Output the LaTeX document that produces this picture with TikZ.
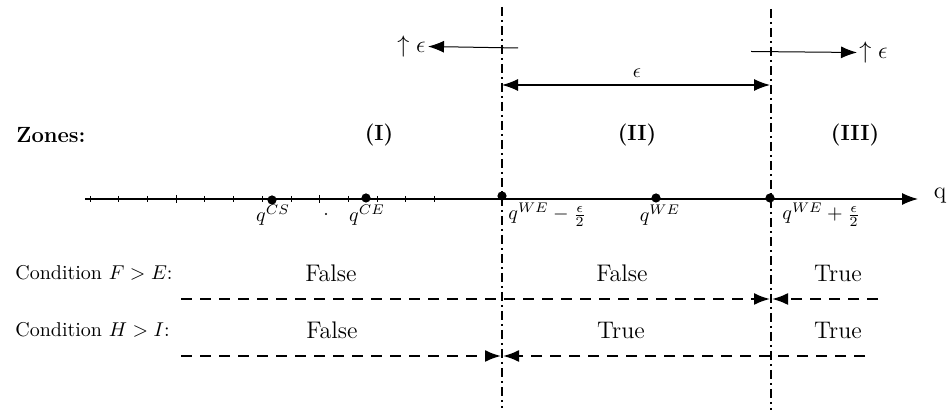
\documentclass[tikz,border=0pt]{standalone}
\usetikzlibrary{arrows.meta}
\begin{document}
\begin{tikzpicture}[x=0.5pt,y=-0.5pt,
  tip/.style={-{Latex[length=8pt,width=6pt]}},
  tips/.style={{Latex[length=8pt,width=6pt]}-{Latex[length=8pt,width=6pt]}},
  zoneline/.style={line width=1pt,dash pattern=on 4.5pt off 2pt on 1pt off 2pt},
  condline/.style={line width=1pt,dash pattern=on 5.5pt off 4pt},
  axisline/.style={line width=0.6pt},
  thinarrow/.style={line width=0.5pt},
  pt/.style={circle,fill,inner sep=0pt,minimum size=4.6pt},
  lbl/.style={inner sep=1pt},
  zone/.style={inner sep=1pt,font=\fontsize{11}{13}\selectfont\bfseries},
  cond/.style={font=\large}
]
\useasboundingbox (0,0) rectangle (948,410);

% vertical zone boundaries
\coordinate (v1t) at (502,7);
\coordinate (v1b) at (502,408);
\coordinate (v2t) at (771,9);
\coordinate (v2b) at (771,410);
\draw[zoneline] (v1t) -- (v1b);
\draw[zoneline] (v2t) -- (v2b);

% top arrows
\coordinate (la) at (518,48);
\coordinate (lt) at (428,46.5);
\coordinate (ra) at (751,51.5);
\coordinate (rt) at (857,52.5);
\draw[thinarrow,tip] (la) -- (lt);
\draw[thinarrow,tip] (ra) -- (rt);
\node[lbl,anchor=east,font=\large] (lup) at (lt) {$\uparrow\epsilon$};
\node[lbl,anchor=west,font=\large] (rup) at (rt) {$\uparrow\epsilon$};

% epsilon width arrow
\coordinate (e1) at (502,85);
\coordinate (e2) at (770,85);
\draw[axisline,tips] (e1) -- (e2);
\node[lbl] (eps) at (637,73) {$\epsilon$};

% zones
\node[zone,anchor=west] (zones) at (14,135) {Zones:};
\node[zone] (z1) at (379,135) {(I)};
\node[zone] (z2) at (637,135) {(II)};
\node[zone] (z3) at (855,135) {(III)};

% axis
\coordinate (a0) at (85,199);
\coordinate (a1) at (918,199);
\draw[axisline,tip] (a0) -- (a1);
\node[lbl,font=\large] (qlab) at (940,196) {q};
\foreach \k in {0,...,12}{
  \pgfmathsetmacro{\tx}{90+28.7*\k}
  \draw[line width=0.4pt] (\tx,196) -- (\tx,202);
}
\draw[line width=0.4pt] (176.1,195) -- (176.1,203);
\draw[line width=0.4pt] (319.6,195) -- (319.6,203);

\node[pt] (cs) at (272,200) {};
\node[pt] (ce) at (366,198) {};
\node[pt] (wm) at (502,196) {};
\node[pt] (we) at (656,198) {};
\node[pt] (wp) at (770,198) {};
\node[lbl] (lcs) at (273,215) {$q^{CS}$};
\node[lbl] (lce) at (367,215) {$q^{CE}$};
\node[lbl,anchor=west] (lwm) at (506,215) {$q^{WE}-\frac{\epsilon}{2}$};
\node[lbl] (lwe) at (660,215) {$q^{WE}$};
\node[lbl,anchor=west] (lwp) at (780,215) {$q^{WE}+\frac{\epsilon}{2}$};
\fill (326,214) circle (0.6pt);

% conditions
\node[lbl,anchor=west] (c1) at (13,273) {Condition $F>E$:};
\node[cond] (c1a) at (331,273) {False};
\node[cond] (c1b) at (622,273) {False};
\node[cond] (c1c) at (838,273) {True};
\node[lbl,anchor=west] (c2) at (13,330) {Condition $H>I$:};
\node[cond] (c2a) at (332,330) {False};
\node[cond] (c2b) at (621,330) {True};
\node[cond] (c2c) at (838,330) {True};

\coordinate (d1s) at (181,299);
\coordinate (d1e) at (770,299);
\coordinate (d1r) at (878,299);
\coordinate (d1f) at (772,299);
\draw[condline,tip] (d1s) -- (d1e);
\draw[condline,tip] (d1r) -- (d1f);
\coordinate (d2s) at (181,356);
\coordinate (d2e) at (501,356);
\coordinate (d2r) at (865,356);
\coordinate (d2f) at (503,356);
\draw[condline,tip] (d2s) -- (d2e);
\draw[condline,tip] (d2r) -- (d2f);
\end{tikzpicture}
\end{document}
